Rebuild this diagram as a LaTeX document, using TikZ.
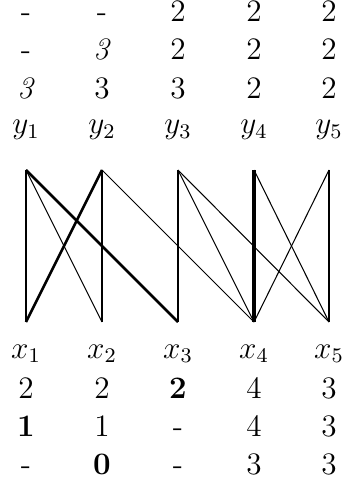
\documentclass[tikz,border=0pt]{standalone}
\usepackage{amsmath}
\usepackage{amssymb}
\usetikzlibrary{positioning}

\tikzset{
  cell/.style={anchor=base, inner sep=0pt, font=\large},
  heavy/.style={line width=1pt},
  light/.style={line width=0.4pt}
}

\begin{document}
\begin{tikzpicture}[x=0.0135cm, y=-0.0135cm]
    \useasboundingbox (0,0) rectangle (341,487);
    % labels above
    \node[cell] (a1) at (26,22) {-};
    \node[cell] (a2) at (102,22) {-};
    \node[cell] (a3) at (178,22) {2};
    \node[cell] (a4) at (254,22) {2};
    \node[cell] (a5) at (329,22) {2};
    \node[cell] (b1) at (26,60) {-};
    \node[cell] (b2) at (102,60) {\textit{3}};
    \node[cell] (b3) at (178,60) {2};
    \node[cell] (b4) at (254,60) {2};
    \node[cell] (b5) at (329,60) {2};
    \node[cell] (c1) at (26,99) {\textit{3}};
    \node[cell] (c2) at (102,99) {3};
    \node[cell] (c3) at (178,99) {3};
    \node[cell] (c4) at (254,99) {2};
    \node[cell] (c5) at (329,99) {2};
    \node[cell] (ly1) at (26,134) {$y_1$};
    \node[cell] (ly2) at (102,134) {$y_2$};
    \node[cell] (ly3) at (178,134) {$y_3$};
    \node[cell] (ly4) at (254,134) {$y_4$};
    \node[cell] (ly5) at (329,134) {$y_5$};
    % the vertices
    \coordinate (y1) at (26,170);
    \coordinate (y2) at (102,170);
    \coordinate (y3) at (178,170);
    \coordinate (y4) at (254,170);
    \coordinate (y5) at (329,170);
    \coordinate (x1) at (26,322);
    \coordinate (x2) at (102,322);
    \coordinate (x3) at (178,322);
    \coordinate (x4) at (254,322);
    \coordinate (x5) at (329,322);
    \path[light]
    (y1) edge (x2)
    (y2) edge (x4)
    (y3) edge (x4)
    (y3) edge (x5)
    (y4) edge (x5)
    (y5) edge (x4)
    ;
    \path[heavy]
    (y1) edge (x1)
    (y1) edge (x3)
    (y2) edge (x1)
    (y2) edge (x2)
    (y3) edge (x3)
    (y4) edge[line width=1.5pt] (x4)
    (y5) edge (x5)
    ;
    % labels below
    \node[cell] (lx1) at (26,358) {$x_1$};
    \node[cell] (lx2) at (102,358) {$x_2$};
    \node[cell] (lx3) at (178,358) {$x_3$};
    \node[cell] (lx4) at (254,358) {$x_4$};
    \node[cell] (lx5) at (329,358) {$x_5$};
    \node[cell] (d1) at (26,398) {2};
    \node[cell] (d2) at (102,398) {2};
    \node[cell] (d3) at (178,398) {\textbf{2}};
    \node[cell] (d4) at (254,398) {4};
    \node[cell] (d5) at (329,398) {3};
    \node[cell] (e1) at (26,436) {\textbf{1}};
    \node[cell] (e2) at (102,436) {1};
    \node[cell] (e3) at (178,436) {-};
    \node[cell] (e4) at (254,436) {4};
    \node[cell] (e5) at (329,436) {3};
    \node[cell] (f1) at (26,474) {-};
    \node[cell] (f2) at (102,474) {\textbf{0}};
    \node[cell] (f3) at (178,474) {-};
    \node[cell] (f4) at (254,474) {3};
    \node[cell] (f5) at (329,474) {3};
  \end{tikzpicture}
\end{document}
